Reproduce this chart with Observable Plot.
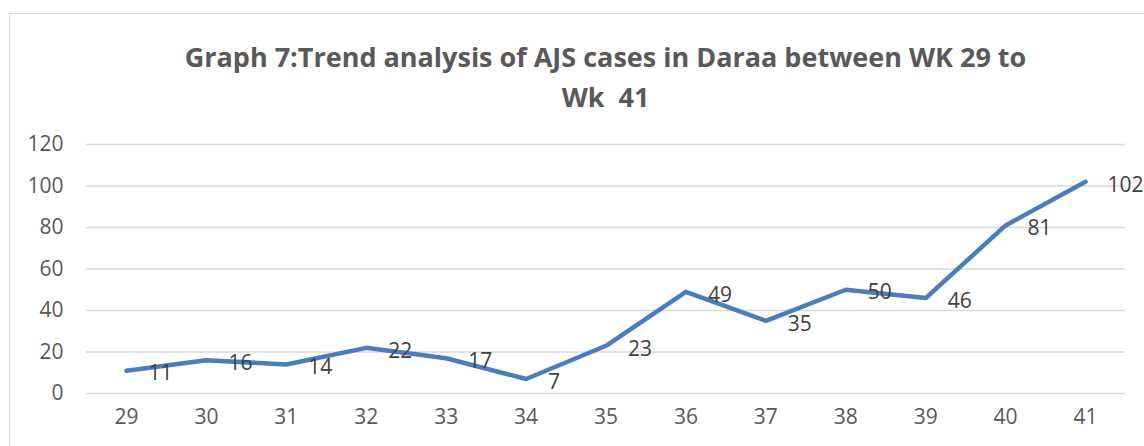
<!DOCTYPE html>
<html><head><meta charset="utf-8">
<script src="https://cdn.jsdelivr.net/npm/d3@7"></script>
<script src="https://cdn.jsdelivr.net/npm/@observablehq/plot@0.6"></script>
<style>
html,body{margin:0;padding:0;background:#fff;overflow:hidden;width:1144px;height:446px;position:relative}
#frame{position:absolute;left:9px;top:13px;width:1200px;height:500px;border:1.5px solid #d9d9d9;box-sizing:border-box}
#title{position:absolute;left:10px;top:0;width:1191px;height:130px;box-sizing:border-box;padding-top:37px;text-align:center;font-family:'Open Sans',sans-serif;font-weight:bold;font-size:27px;color:#595959;line-height:40px;white-space:pre}
#chart{position:absolute;left:0;top:130px}
</style></head>
<body>
<div id="frame"></div>
<div id="title">Graph 7:Trend analysis of AJS cases in Daraa between WK 29 to
Wk  41</div>
<div id="chart"></div>
<script>
const weeks = ["29","30","31","32","33","34","35","36","37","38","39","40","41"];
const cases = [11,16,14,22,17,7,23,49,35,50,46,81,102];
const yTicks = [0,20,40,60,80,100,120];

const data = weeks.map((w,i)=>({week:w, cases:cases[i]}));

const chart = Plot.plot({
  width:1144, height:316,
  marginLeft:86, marginRight:19, marginTop:14, marginBottom:53,
  style:{fontFamily:"Open Sans", fontSize:"21px", color:"#595959", background:"transparent", overflow:"visible"},
  x:{type:"point", domain:weeks, padding:0.5, round:false, label:null, axis:null},
  y:{domain:[0,120], label:null, axis:null},
  marks:[
    Plot.gridY(yTicks,{stroke:"#d9d9d9", strokeOpacity:1, strokeWidth:1.5}),
    Plot.text(yTicks,{y:d=>d, text:d=>String(d), frameAnchor:"left", textAnchor:"end", dx:-23, fill:"#595959", fontSize:21}),
    Plot.text(weeks,{x:d=>d, text:d=>d, frameAnchor:"bottom", dy:30, fill:"#595959", fontSize:21}),
    Plot.line(data,{x:"week", y:"cases", stroke:"#4a7ebb", strokeWidth:4.5}),
    Plot.text(data,{x:"week", y:"cases", text:d=>String(d.cases), textAnchor:"start", dx:22, dy:3, fill:"#404040", fontSize:21})
  ]
});
document.getElementById("chart").appendChild(chart);
</script>
</body></html>
